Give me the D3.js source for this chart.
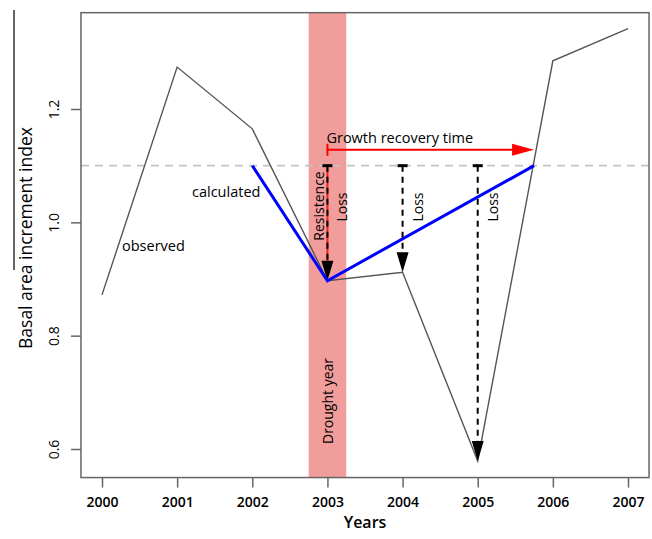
<!DOCTYPE html>
<html>
<head>
<meta charset="utf-8">
<script src="https://cdn.jsdelivr.net/npm/d3@7"></script>
<style>
  html, body { margin: 0; padding: 0; background: #fff; }
  svg { display: block; font-family: "Open Sans", sans-serif; }
</style>
</head>
<body>
<svg id="chart" width="652" height="539"></svg>
<script>
// Basal area increment index, observed per year
const years = [2000, 2001, 2002, 2003, 2004, 2005, 2006, 2007];
const observed = [0.872, 1.274, 1.165, 0.897, 0.912, 0.579, 1.285, 1.342];

// Pre-drought reference level and the calculated recovery path
const referenceLevel = 1.1;
const calcYears = [2002, 2003, 2005.75];
const calcValues = [1.1, 0.897, 1.1];

// Drought year band
const droughtStart = 2002.75;
const droughtEnd = 2003.25;

// Loss arrows: year and the value reached
const lossYears = [2003, 2004, 2005];
const lossValues = [0.897, 0.912, 0.579];

// Growth recovery time arrow
const recoveryFrom = 2003;
const recoveryTo = 2005.75;
const recoveryLevel = 1.128;

const xTicks = [2000, 2001, 2002, 2003, 2004, 2005, 2006, 2007];
const yTicks = [0.6, 0.8, 1.0, 1.2];

const svg = d3.select("#chart");

const x = d3.scaleLinear().domain([2000, 2007]).range([102, 628]);
const y = d3.scaleLinear().domain([0.6, 1.2]).range([449, 109]);

// plot region, padded like a base-graphics plot
const box = { left: x(1999.72), right: x(2007.28), top: y(1.37), bottom: y(0.5496) };

// drought band
svg.append("rect")
  .attr("x", x(droughtStart)).attr("width", x(droughtEnd) - x(droughtStart))
  .attr("y", box.top).attr("height", box.bottom - box.top)
  .attr("fill", "#f19d9c");

// reference level
svg.append("line")
  .attr("x1", box.left).attr("x2", box.right)
  .attr("y1", y(referenceLevel)).attr("y2", y(referenceLevel))
  .attr("stroke", "#c4c4c4").attr("stroke-width", 1.6)
  .attr("stroke-dasharray", "8,6");

// observed series
const line = d3.line().x(d => x(d[0])).y(d => y(d[1]));
svg.append("path")
  .attr("d", line(d3.zip(years, observed)))
  .attr("fill", "none").attr("stroke", "#555").attr("stroke-width", 1.4);

// loss arrows
const arrowLen = 20, arrowHalf = 6;
lossYears.forEach((yr, i) => {
  const px = x(yr), top = y(referenceLevel), tip = y(lossValues[i]);
  if (i === 0) {
    svg.append("line")
      .attr("x1", px).attr("x2", px).attr("y1", top).attr("y2", tip - arrowLen)
      .attr("stroke", "#ff1a1a").attr("stroke-width", 2);
  }
  svg.append("line")
    .attr("x1", px).attr("x2", px).attr("y1", top).attr("y2", tip - arrowLen)
    .attr("stroke", "#000").attr("stroke-width", 2)
    .attr("stroke-dasharray", "6,5");
  svg.append("line")
    .attr("x1", px - 5).attr("x2", px + 5).attr("y1", top).attr("y2", top)
    .attr("stroke", "#000").attr("stroke-width", 3);
  svg.append("path")
    .attr("d", `M${px - arrowHalf},${tip - arrowLen}L${px + arrowHalf},${tip - arrowLen}L${px},${tip}Z`)
    .attr("fill", "#000");
});

// calculated path
svg.append("path")
  .attr("d", line(d3.zip(calcYears, calcValues)))
  .attr("fill", "none").attr("stroke", "#0000ff").attr("stroke-width", 3)
  .attr("stroke-linejoin", "miter");

// recovery arrow
{
  const ry = y(recoveryLevel), x0 = x(recoveryFrom), x1 = x(recoveryTo);
  svg.append("line")
    .attr("x1", x0).attr("x2", x1 - 20).attr("y1", ry).attr("y2", ry)
    .attr("stroke", "#ff0000").attr("stroke-width", 2);
  svg.append("line")
    .attr("x1", x0).attr("x2", x0).attr("y1", ry - 6).attr("y2", ry + 6)
    .attr("stroke", "#ff0000").attr("stroke-width", 2);
  svg.append("path")
    .attr("d", `M${x1 - 22},${ry - 6}L${x1 - 22},${ry + 6}L${x1},${ry}Z`)
    .attr("fill", "#ff0000");
}

// frame
svg.append("rect")
  .attr("x", box.left).attr("y", box.top)
  .attr("width", box.right - box.left).attr("height", box.bottom - box.top)
  .attr("fill", "none").attr("stroke", "#666").attr("stroke-width", 1.5);

// axes
const xAxis = svg.append("g")
  .attr("transform", `translate(0,${box.bottom})`)
  .call(d3.axisBottom(x).tickValues(xTicks).tickFormat(d3.format("d")).tickSize(10).tickPadding(10));
const yAxis = svg.append("g")
  .attr("transform", `translate(${box.left},0)`)
  .call(d3.axisLeft(y).tickValues(yTicks).tickFormat(d3.format(".1f")).tickSize(10));

[xAxis, yAxis].forEach(g => {
  g.select(".domain").remove();
  g.selectAll(".tick line").attr("stroke", "#666").attr("stroke-width", 1.5);
});
xAxis.selectAll(".tick text")
  .attr("font-family", "Open Sans, sans-serif").attr("font-size", 14)
  .attr("font-weight", 600).attr("fill", "#000");
yAxis.selectAll(".tick text")
  .attr("x", null).attr("dy", null).attr("y", null)
  .attr("transform", "translate(-22,0) rotate(-90)")
  .attr("text-anchor", "middle")
  .attr("font-family", "Open Sans, sans-serif").attr("font-size", 14)
  .attr("fill", "#000");

// axis titles
svg.append("text")
  .attr("x", x(2003.5)).attr("y", 528)
  .attr("text-anchor", "middle").attr("font-size", 16).attr("font-weight", 600)
  .attr("fill", "#000").text("Years");
svg.append("text")
  .attr("transform", `translate(32,${238}) rotate(-90)`)
  .attr("text-anchor", "middle").attr("font-size", 17.5)
  .attr("fill", "#000").text("Basal area increment index");
svg.append("line")
  .attr("x1", 14).attr("x2", 14).attr("y1", 10).attr("y2", 270)
  .attr("stroke", "#000").attr("stroke-width", 1.2);

// annotations
svg.append("text").attr("x", 122).attr("y", 251)
  .attr("font-size", 14.5).attr("font-weight", 500).attr("fill", "#000").text("observed");
svg.append("text").attr("x", 192).attr("y", 197)
  .attr("font-size", 14.5).attr("font-weight", 500).attr("fill", "#000").text("calculated");
svg.append("text").attr("x", x(recoveryFrom) - 1).attr("y", 143)
  .attr("font-size", 14.5).attr("fill", "#000").text("Growth recovery time");

const vText = (px, py, txt) => svg.append("text")
  .attr("transform", `translate(${px},${py}) rotate(-90)`)
  .attr("text-anchor", "middle").attr("font-size", 14).attr("fill", "#000").text(txt);

vText(x(2003) - 3, 206, "Resistence");
lossYears.forEach(yr => vText(x(yr) + 20, 207, "Loss"));
vText(x(2003) + 6, 401, "Drought year");
</script>
</body>
</html>
